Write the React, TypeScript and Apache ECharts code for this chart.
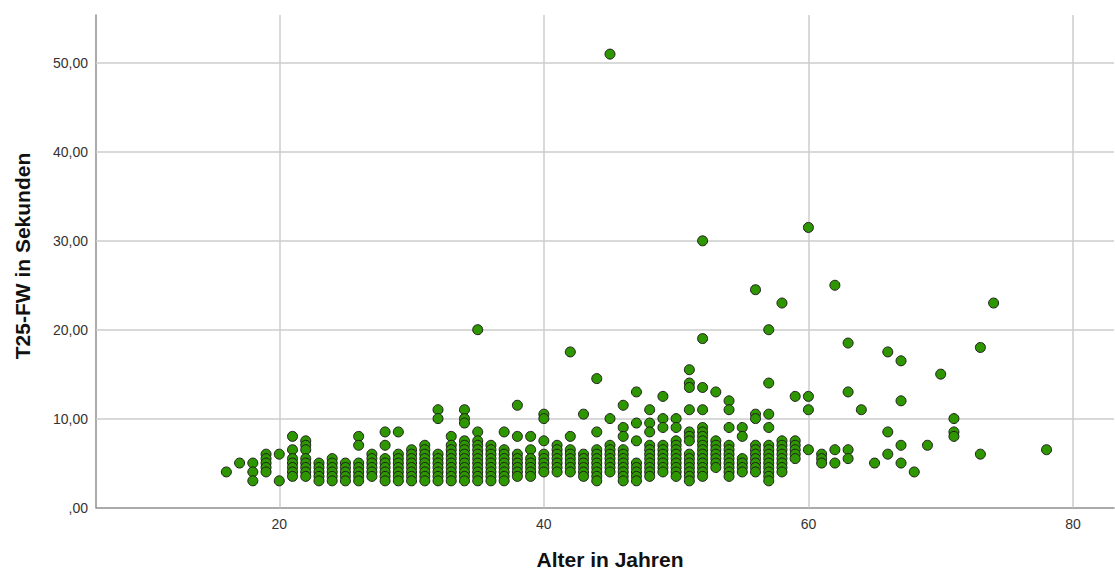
import React, { useEffect, useRef } from "react";
import * as echarts from "echarts";

const ages: number[] = [
  16, 17, 18, 19, 20, 21, 22, 23, 24, 25, 26, 27, 28, 29, 30, 31, 32, 33, 34, 35,
  36, 37, 38, 39, 40, 41, 42, 43, 44, 45, 46, 47, 48, 49, 50, 51, 52, 53, 54, 55,
  56, 57, 58, 59, 60, 61, 62, 63, 64, 65, 66, 67, 68, 69, 70, 71, 73, 74, 78,
];

const t25ByAge: number[][] = [
  [4],
  [5],
  [5, 4, 3],
  [6, 5.5, 5, 4.5, 4],
  [6, 3],
  [8, 6.5, 5.5, 5, 4.5, 4, 3.5],
  [7.5, 7, 6.5, 5.5, 5, 4.5, 4, 3.5],
  [5, 4.5, 4, 3.5, 3],
  [5.5, 5, 4.5, 4, 3.5, 3],
  [5, 4.5, 4, 3.5, 3],
  [8, 7, 5, 4.5, 4, 3.5, 3],
  [6, 5.5, 5, 4.5, 4, 3.5],
  [8.5, 7, 5.5, 5, 4.5, 4, 3.5, 3],
  [8.5, 6, 5.5, 5, 4.5, 4, 3.5, 3],
  [6.5, 6, 5.5, 5, 4.5, 4, 3.5, 3],
  [7, 6.5, 6, 5.5, 5, 4.5, 4, 3.5, 3],
  [11, 10, 6, 5.5, 5, 4.5, 4, 3.5, 3],
  [8, 7, 6.5, 6, 5.5, 5, 4.5, 4, 3.5, 3],
  [11, 10, 9.5, 7.5, 7, 6.5, 6, 5.5, 5, 4.5, 4, 3.5, 3],
  [20, 8.5, 7.5, 7, 6.5, 6, 5.5, 5, 4.5, 4, 3.5, 3],
  [7, 6.5, 6, 5.5, 5, 4.5, 4, 3.5, 3],
  [8.5, 6.5, 6, 5.5, 5, 4.5, 4, 3.5, 3],
  [11.5, 8, 6, 5.5, 5, 4.5, 4, 3.5],
  [8, 6.5, 5.5, 5, 4.5, 4, 3.5],
  [10.5, 10, 7.5, 6, 5.5, 5, 4.5, 4],
  [7, 6.5, 6, 5.5, 5, 4.5, 4],
  [17.5, 8, 6.5, 6, 5.5, 5, 4.5, 4],
  [10.5, 6, 5.5, 5, 4.5, 4, 3.5],
  [14.5, 8.5, 6.5, 6, 5.5, 5, 4.5, 4, 3.5, 3],
  [51, 10, 7, 6.5, 6, 5.5, 5, 4.5, 4],
  [11.5, 9, 8, 6.5, 6, 5.5, 5, 4.5, 4, 3.5, 3],
  [13, 9.5, 7.5, 5, 4.5, 4, 3.5, 3],
  [11, 9.5, 8.5, 7, 6.5, 6, 5.5, 5, 4.5, 4, 3.5],
  [12.5, 10, 9, 7, 6.5, 6, 5.5, 5, 4.5, 4],
  [10, 9, 7.5, 7, 6.5, 6, 5.5, 5, 4.5, 4, 3.5],
  [15.5, 14, 13.5, 11, 8.5, 8, 7.5, 6, 5.5, 5, 4.5, 4, 3.5, 3],
  [30, 19, 13.5, 11, 9, 8.5, 8, 7.5, 7, 6.5, 6, 5.5, 5, 4.5, 4, 3.5],
  [13, 7.5, 7, 6.5, 6, 5.5, 5, 4.5],
  [12, 11, 9, 7, 6.5, 6, 5.5, 5, 4.5, 4, 3.5],
  [9, 8, 5.5, 5, 4.5, 4],
  [24.5, 10.5, 10, 7, 6.5, 6, 5.5, 5, 4.5, 4],
  [20, 14, 10.5, 9, 7, 6.5, 6, 5.5, 5, 4.5, 4, 3.5, 3],
  [23, 7.5, 7, 6.5, 6, 5.5, 5, 4.5, 4],
  [12.5, 7.5, 7, 6.5, 6, 5.5],
  [31.5, 12.5, 11, 6.5],
  [6, 5.5, 5],
  [25, 6.5, 5],
  [18.5, 13, 6.5, 5.5],
  [11],
  [5],
  [17.5, 8.5, 6],
  [16.5, 12, 7, 5],
  [4],
  [7],
  [15],
  [10, 8.5, 8],
  [18, 6],
  [23],
  [6.5],
];

const xTickValues: number[] = [20, 40, 60, 80];
const xTickLabels: string[] = ["20", "40", "60", "80"];
const yTickValues: number[] = [0, 10, 20, 30, 40, 50];
const yTickLabels: string[] = [",00", "10,00", "20,00", "30,00", "40,00", "50,00"];

const xTitle = "Alter in Jahren";
const yTitle = "T25-FW in Sekunden";

const FONT = '"Liberation Sans", Arial, sans-serif';

function findLabel(values: number[], labels: string[], v: number): string {
  for (let i = 0; i < values.length; i++) {
    if (Math.abs(values[i] - v) < 1e-6) return labels[i];
  }
  return "";
}

export default function App() {
  const ref = useRef<HTMLDivElement>(null);

  useEffect(() => {
    if (!ref.current) return;
    const chart = echarts.init(ref.current, undefined, { renderer: "svg" });

    const points: number[][] = [];
    ages.forEach((age, i) => {
      t25ByAge[i].forEach((v) => points.push([age, v]));
    });

    const gridData: any[] = [
      ...xTickValues.map((v) => ({ xAxis: v })),
      ...yTickValues.filter((v) => v > 0).map((v) => ({ yAxis: v })),
    ];

    chart.setOption({
      animation: false,
      backgroundColor: "#ffffff",
      grid: { left: 96, right: 1, top: 15, bottom: 63.5, containLabel: false },
      xAxis: {
        type: "value",
        min: 6.145,
        max: 83.1,
        splitNumber: 4,
        axisLine: { show: true, onZero: false, lineStyle: { color: "#8f8f8f", width: 1.5 } },
        axisTick: { show: false },
        splitLine: { show: false },
        axisLabel: {
          margin: 9,
          color: "#333333",
          fontSize: 14,
          fontFamily: FONT,
          showMinLabel: false,
          showMaxLabel: false,
          formatter: (v: number) => findLabel(xTickValues, xTickLabels, v),
        },
      },
      yAxis: {
        type: "value",
        min: 0,
        max: 55.4,
        interval: 10,
        axisLine: { show: true, onZero: false, lineStyle: { color: "#8f8f8f", width: 1.5 } },
        axisTick: { show: false },
        splitLine: { show: false },
        axisLabel: {
          margin: 8,
          color: "#333333",
          fontSize: 14,
          fontFamily: FONT,
          showMaxLabel: false,
          formatter: (v: number) => findLabel(yTickValues, yTickLabels, v),
        },
      },
      graphic: [
        {
          type: "text",
          x: 22.5,
          y: 256,
          rotation: Math.PI / 2,
          silent: true,
          style: {
            text: yTitle,
            fontSize: 21,
            fontWeight: "bold",
            fontFamily: FONT,
            fill: "#111111",
            textAlign: "center",
            textVerticalAlign: "middle",
            align: "center",
            verticalAlign: "middle",
          },
        },
        {
          type: "text",
          x: 610,
          y: 559.5,
          silent: true,
          style: {
            text: xTitle,
            fontSize: 21,
            fontWeight: "bold",
            fontFamily: FONT,
            fill: "#111111",
            textAlign: "center",
            textVerticalAlign: "middle",
            align: "center",
            verticalAlign: "middle",
          },
        },
      ],
      series: [
        {
          type: "scatter",
          name: "grid",
          data: [],
          z: 1,
          silent: true,
          markLine: {
            silent: true,
            symbol: ["none", "none"],
            label: { show: false },
            emphasis: { disabled: true },
            lineStyle: { color: "#cdcdcd", width: 1.5, type: "solid" },
            data: gridData,
          },
        },
        {
          type: "scatter",
          name: "T25-FW",
          z: 5,
          data: points,
          symbol: "circle",
          symbolSize: 10,
          itemStyle: { color: "#2e9700", borderColor: "#1e1e1e", borderWidth: 1, opacity: 1 },
          emphasis: { disabled: true },
        },
      ],
    });

    return () => chart.dispose();
  }, []);

  return (
    <div
      ref={ref}
      style={{ position: "absolute", left: 0, top: 0, width: 1115, height: 571 }}
    />
  );
}
